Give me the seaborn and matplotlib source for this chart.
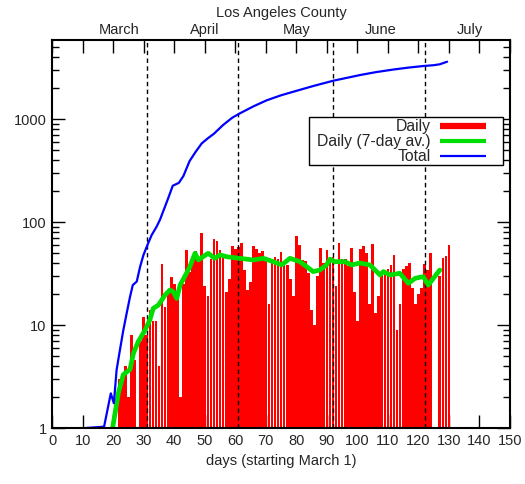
import matplotlib
matplotlib.use("Agg")
import matplotlib.pyplot as plt
from matplotlib.lines import Line2D
from matplotlib.patches import Rectangle
from matplotlib.ticker import LogLocator, FixedLocator, NullFormatter
import seaborn as sns
import pandas as pd

# Daily deaths (day counted from March 1 = day 0); days without a report are left out
daily_days = [22, 23, 24, 25, 26, 27, 29, 30, 31, 32, 33, 34, 35, 36, 37, 38, 39, 40,
               41, 42, 43, 44, 45, 46, 47, 48, 49, 50, 51, 52, 53, 54, 55, 56, 57, 58,
               59, 60, 61, 62, 63, 64, 65, 66, 67, 68, 69, 70, 71, 72, 73, 74, 75, 76,
               77, 78, 79, 80, 81, 82, 83, 84, 85, 86, 87, 88, 89, 90, 91, 92, 93, 94,
               95, 96, 97, 98, 99, 100, 101, 102, 103, 104, 105, 106, 107, 108, 109, 110,
               111, 112, 113, 114, 115, 116, 117, 118, 119, 120, 121, 122, 123, 124,
               127, 128, 129, 130]
daily_vals = [3, 3, 4, 2, 8, 4.6, 7, 12, 8, 14, 11, 11, 4, 39, 15, 22, 29, 25,
              19, 2, 25, 53, 33, 44, 52, 42, 79, 24, 19, 44, 69, 66, 53, 46, 21, 28,
              58, 55, 57, 63, 34, 22, 26, 58, 55, 50, 52, 42, 16, 44, 46, 44, 51, 38,
              38, 28, 19, 73, 60, 43, 42, 32, 14, 10, 30, 56, 40, 53, 46, 46, 24, 63,
              44, 44, 37, 56, 21, 11, 55, 58, 50, 16, 61, 13, 19, 32, 33, 35,
              38, 48, 9, 16, 35, 37, 40, 23, 16, 20, 23, 39, 34, 50,
              30, 45, 47, 60]

# 7-day running average
avg_days = [19.8, 21.7, 23.3, 25.5, 26.6, 28.2, 30.4, 32.0, 33.1, 34.8, 37.0, 38.6,
            39.7, 40.8, 41.9, 44.0, 45.1, 46.8, 47.9, 51.1, 53.3, 55.0, 57.2, 61.5,
            65.9, 69.2, 72.4, 75.2, 77.9, 81.2, 83.4, 85.5, 87.7, 89.9, 91.0, 92.6,
            95.9, 98.1, 100.8, 104.1, 107.4, 108.5, 110.7, 113.9, 116.7, 118.9, 121.6,
            123.2, 124.9, 127.0]
avg_vals = [1.0, 2.2, 3.3, 3.7, 5.3, 6.9, 8.9, 11.2, 14.5, 15.6, 19.6, 21.9,
            21.0, 18.1, 24.4, 31.8, 36.8, 49.7, 42.8, 49.7, 44.4, 48.0, 46.0, 44.4,
            42.8, 44.4, 41.2, 38.3, 44.4, 41.2, 36.8, 33.0, 34.2, 38.3, 43.5, 41.2,
            41.2, 38.3, 40.0, 38.3, 30.6, 33.0, 30.6, 31.8, 25.4, 28.4, 29.5,
            24.4, 28.4, 34.2]

# Cumulative total
total_days = [11, 17.0, 19.2, 20.2, 21.1, 22.0, 23.3, 24.4, 25.5, 26.4, 27.7, 28.8,
              29.9, 31.2, 32.6, 34.2, 35.3, 36.5, 38.0, 39.5, 41.5, 43.0, 45.0, 47.0,
              49.0, 51.0, 53.0, 56.0, 59.0, 61.5, 66.0, 70.3, 75.0, 79.0, 85.5, 92.0,
              100.8, 106.0, 111.7, 116.5, 121.6, 125.0, 127.0, 129.4]
total_vals = [1, 1.03, 2.17, 1.74, 3.66, 5.3, 8.9, 13, 18.8, 24.4, 26.4, 36.8,
              47.8, 59.8, 74.8, 90, 105, 130, 170, 225, 240, 280, 390, 480,
              580, 650, 720, 875, 1030, 1135, 1330, 1520, 1700, 1840, 2090, 2350,
              2670, 2850, 3020, 3150, 3270, 3330, 3400, 3600]

month_starts = [31, 61, 92, 122]
month_names = ["March", "April", "May", "June", "July"]
month_label_pos = [22, 50, 80, 107.5, 137]
x_ticks = list(range(0, 151, 10))

sns.set_theme(style="ticks")
plt.rcParams["font.family"] = ["Liberation Sans", "DejaVu Sans"]
plt.rcParams["font.size"] = 10.5

W, H = 525, 484
fig = plt.figure(figsize=(W / 100, H / 100), dpi=100)
ax = fig.add_axes([52.2 / W, 1 - 428 / H, (510 - 52.2) / W, (428 - 40) / H])

bars_df = pd.DataFrame({"day": daily_days, "deaths": daily_vals})
sns.barplot(data=bars_df, x="day", y="deaths", native_scale=True, color="#ff0000",
            saturation=1, width=0.88, linewidth=0, ax=ax, zorder=2)

for d in month_starts:
    ax.axvline(d, color="black", lw=1.0, ls=(0, (3.2, 2.4)), zorder=3)

sns.lineplot(x=avg_days, y=avg_vals, color="#00dd00", lw=3.4, ax=ax, zorder=4)
sns.lineplot(x=total_days, y=total_vals, color="#0000ff", lw=1.6, ax=ax, zorder=5)

ax.set_yscale("log")
ax.set_ylim(1, 5850)
ax.set_xlim(0, 150)
ax.xaxis.set_major_locator(FixedLocator(x_ticks))
ax.set_xticklabels([str(t) for t in x_ticks])
ax.yaxis.set_minor_locator(LogLocator(base=10, subs=range(2, 10), numticks=20))
ax.yaxis.set_minor_formatter(NullFormatter())
ax.set_yticks([1, 10, 100, 1000])
ax.set_yticklabels(["1", "10", "100", "1000"])

ax.tick_params(axis="both", which="major", direction="in", length=9.5, width=1.0,
               top=True, right=True, labelsize=10.5, pad=4, color="black")
ax.tick_params(axis="both", which="minor", direction="in", length=5, width=1.0,
               top=True, right=True, color="black")
ax.tick_params(axis="x", which="minor", top=False, bottom=False)
for s in ax.spines.values():
    s.set_linewidth(1.5)
    s.set_color("black")
    s.set_zorder(6)
ax.set_xlabel("days (starting March 1)", fontsize=10.5, labelpad=5)
ax.set_ylabel("")

for name, pos in zip(month_names, month_label_pos):
    ax.text(pos, 1.007, name, transform=ax.get_xaxis_transform(), ha="center",
            va="bottom", fontsize=10.5, clip_on=False)
fig.text(281 / W, 1 - 13 / H, "Los Angeles County", ha="center", va="center",
         fontsize=10.5)

# Key box with the samples on the right of right-aligned labels
box = Rectangle((309 / W, 1 - 165 / H), (503 - 309) / W, (165 - 117) / H,
                transform=fig.transFigure, facecolor="white", edgecolor="black",
                lw=1.0, zorder=9)
fig.add_artist(box)
handles = [Line2D([], [], color="#ff0000", lw=4.5, solid_capstyle="butt"),
           Line2D([], [], color="#00dd00", lw=3.0, solid_capstyle="butt"),
           Line2D([], [], color="#0000ff", lw=1.6, solid_capstyle="butt")]
labels = ["Daily", "Daily (7-day av.)", "Total"]
leg = fig.legend(handles, labels, loc="upper right",
                 bbox_to_anchor=(489 / W, 1 - 116 / H),
                 bbox_transform=fig.transFigure, markerfirst=False,
                 frameon=False, fontsize=11.3, handlelength=2.9, handletextpad=0.6,
                 labelspacing=0.0, borderpad=0.2, borderaxespad=0)
leg.set_zorder(10)

fig.savefig("out.png", dpi=100)
